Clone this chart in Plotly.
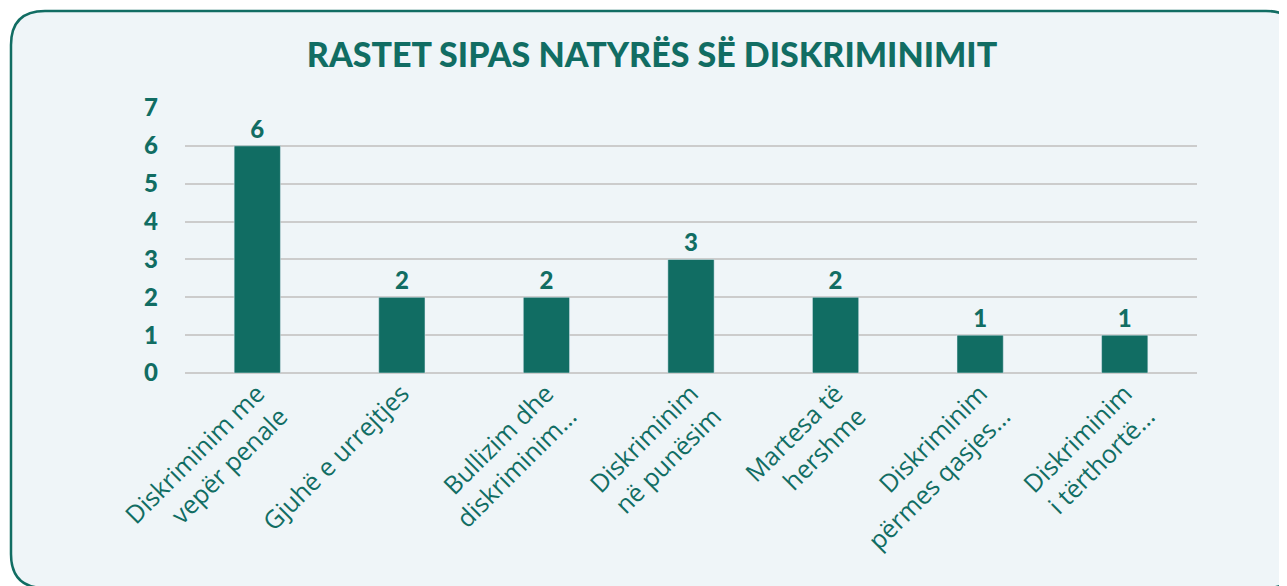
import plotly.graph_objects as go

categorias = [
    "Diskriminim me<br>vepër penale",
    "Gjuhë e urrejtjes",
    "Bullizim dhe<br>diskriminim…",
    "Diskriminim<br>në punësim",
    "Martesa të<br>hershme",
    "Diskriminim<br>përmes qasjes…",
    "Diskriminim<br>i tërthortë…",
]
rastet = [6, 2, 2, 3, 2, 1, 1]
y_ticks = [0, 1, 2, 3, 4, 5, 6, 7]

VERDE = "#116d63"
FONDO = "#eff5f8"

# la pagina tiene 8px de margen en el body
OFF = 8
W, H = 1287 - OFF, 586 - OFF
# bordes del area del grafico en pixeles de la pagina
PL, PR, PT, PB = 185, 1197, 108, 373
ML, MR, MT, MB = PL - OFF, W - (PR - OFF), PT - OFF, H - (PB - OFF)


def px2paper(x, y):
    # pixeles de la pagina -> coordenadas paper
    return (x - PL) / (PR - PL), (PB - y) / (PB - PT)


def card_path(x0, y0, x1, y1, r):
    pts = [
        ("M", [(x0 + r, y0)]),
        ("L", [(x1 - r, y0)]),
        ("Q", [(x1, y0), (x1, y0 + r)]),
        ("L", [(x1, y1 - r)]),
        ("Q", [(x1, y1), (x1 - r, y1)]),
        ("L", [(x0 + r, y1)]),
        ("Q", [(x0, y1), (x0, y1 - r)]),
        ("L", [(x0, y0 + r)]),
        ("Q", [(x0, y0), (x0 + r, y0)]),
    ]
    s = ""
    for cmd, ps in pts:
        s += cmd + " " + " ".join("%.5f,%.5f" % px2paper(*p) for p in ps) + " "
    return s + "Z"


fig = go.Figure(
    go.Bar(
        x=categorias,
        y=rastet,
        marker_color=VERDE,
        text=rastet,
        textposition="outside",
        cliponaxis=False,
        textfont=dict(family="Lato", size=24, color=VERDE, weight=900),
        hoverinfo="skip",
    )
)

fig.add_shape(
    type="path",
    path=card_path(11, 11, 1300, 588, 34),
    xref="paper", yref="paper",
    fillcolor=FONDO,
    line=dict(color=VERDE, width=2.5),
    layer="below",
)

fig.update_layout(
    width=W,
    height=H,
    margin=dict(l=ML, r=MR, t=MT, b=MB),
    paper_bgcolor="white",
    plot_bgcolor="rgba(0,0,0,0)",
    bargap=0.68,
    showlegend=False,
    title=dict(
        text="RASTET SIPAS NATYRËS SË DISKRIMINIMIT",
        x=(652 - OFF) / W, xref="container", xanchor="center",
        y=1 - (55 - OFF) / H, yref="container", yanchor="middle",
        font=dict(family="Lato", size=34, color=VERDE, weight=900),
    ),
    xaxis=dict(
        tickangle=-45,
        tickfont=dict(family="Open Sans", size=25, color=VERDE, weight=500),
        showgrid=False,
        showline=False,
        ticks="",
    ),
    yaxis=dict(
        range=[0, 7],
        tickvals=y_ticks,
        tickfont=dict(family="Lato", size=24, color=VERDE, weight=900),
        gridcolor="#cccccc",
        gridwidth=2,
        zeroline=True,
        zerolinecolor="#cccccc",
        zerolinewidth=2,
        ticklabelstandoff=26,
    ),
)

fig.write_html("out.html")
